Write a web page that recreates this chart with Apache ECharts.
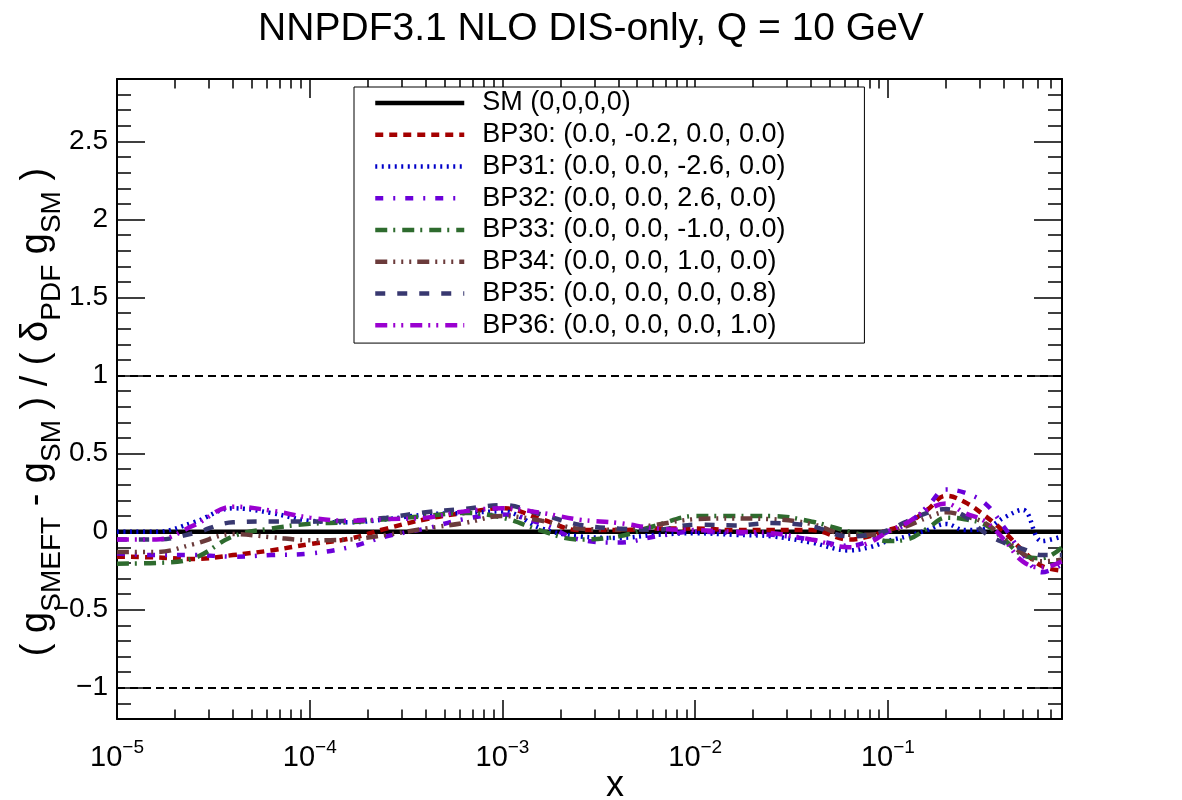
<!DOCTYPE html>
<html><head><meta charset="utf-8">
<script src="https://cdn.jsdelivr.net/npm/echarts@6/dist/echarts.min.js"></script>
<style>html,body{margin:0;padding:0;background:#fff}#c{width:1182px;height:800px}</style>
</head><body><div id="c"></div>
<script>
// ---- data ----
const titleText = 'NNPDF3.1 NLO DIS-only, Q = 10 GeV';
const xMin = 1e-5, xMax = 0.8;
const yMin = -1.2, yMax = 2.9;
const xMajorTicks = [1e-5, 1e-4, 1e-3, 1e-2, 1e-1];
const yMajorTicks = [-1, -0.5, 0, 0.5, 1, 1.5, 2, 2.5];
const refLines = [1, -1];
const xValues = [1e-5, 1.6e-5, 2.5e-5, 4e-5, 6.3e-5, 1e-4, 1.6e-4, 2.5e-4, 4e-4, 6.3e-4,
  1e-3, 1.6e-3, 2.5e-3, 4e-3, 6.3e-3, 0.01, 0.016, 0.025, 0.04, 0.063,
  0.08, 0.1, 0.125, 0.16, 0.2, 0.25, 0.32, 0.4, 0.5, 0.63, 0.8];
const smValues   = [0,0,0,0,0,0,0,0,0,0,0,0,0,0,0,0,0,0,0,0,0,0,0,0,0,0,0,0,0,0,0];
const bp30Values = [-0.16,-0.165,-0.175,-0.15,-0.12,-0.08,-0.045,0.02,0.08,0.12,0.15,0.08,0.01,0.01,0.02,0.02,0.01,0.01,0.01,-0.05,-0.03,0.01,0.05,0.14,0.23,0.19,0.10,0.0,-0.12,-0.22,-0.25];
const bp31Values = [0,0,0.06,0.15,0.12,0.07,0.06,0.08,0.11,0.12,0.13,0.02,-0.03,-0.04,-0.02,-0.01,-0.02,-0.03,-0.07,-0.12,-0.10,-0.06,-0.03,0.01,0.05,0.01,0.02,0.09,0.14,-0.06,-0.03];
const bp32Values = [-0.14,-0.15,-0.15,-0.16,-0.15,-0.14,-0.10,-0.03,0.02,0.08,0.11,0.05,-0.05,-0.07,-0.03,0.0,-0.01,-0.02,-0.05,-0.09,-0.06,0.0,0.05,0.16,0.27,0.25,0.18,0.03,-0.14,-0.26,-0.21];
const bp33Values = [-0.205,-0.2,-0.17,-0.03,0.02,0.05,0.06,0.08,0.10,0.12,0.09,0.005,-0.05,-0.03,0.04,0.10,0.10,0.10,0.065,0.0,-0.03,-0.06,-0.05,0.02,0.09,0.08,0.045,-0.05,-0.15,-0.17,-0.10];
const bp34Values = [-0.13,-0.13,-0.08,-0.015,-0.035,-0.055,-0.05,-0.02,0.02,0.055,0.10,0.07,0.02,0.013,0.045,0.08,0.085,0.08,0.05,-0.02,-0.02,0.0,0.035,0.09,0.125,0.10,0.055,-0.04,-0.14,-0.19,-0.18];
const bp35Values = [-0.05,-0.05,-0.01,0.06,0.065,0.065,0.07,0.09,0.125,0.145,0.17,0.11,0.045,0.02,0.013,0.045,0.04,0.055,0.035,-0.03,-0.02,0.01,0.065,0.12,0.145,0.10,-0.01,-0.07,-0.11,-0.15,-0.15];
const bp36Values = [-0.05,-0.05,0.04,0.16,0.135,0.09,0.07,0.08,0.09,0.13,0.15,0.12,0.077,0.056,0.02,0.01,0.0,-0.01,-0.05,-0.10,-0.07,0.0,0.056,0.14,0.18,0.12,0.065,-0.05,-0.19,-0.23,-0.19];
const seriesNames = ['SM (0,0,0,0)', 'BP30: (0.0, -0.2, 0.0, 0.0)', 'BP31: (0.0, 0.0, -2.6, 0.0)',
  'BP32: (0.0, 0.0, 2.6, 0.0)', 'BP33: (0.0, 0.0, -1.0, 0.0)', 'BP34: (0.0, 0.0, 1.0, 0.0)',
  'BP35: (0.0, 0.0, 0.0, 0.8)', 'BP36: (0.0, 0.0, 0.0, 1.0)'];
const seriesValues = [smValues, bp30Values, bp31Values, bp32Values, bp33Values, bp34Values, bp35Values, bp36Values];

// ---- styles ----
const FONT = 'Liberation Sans, Arial, Helvetica, sans-serif';
const colors = ['#000000', '#a40000', '#0000c8', '#6b00d9', '#2e6b2e', '#6b3b3b', '#383870', '#9a00d0'];
const dashes = ['solid', [8,6], [2,4.5], [8,10,2,10], [12,6,2,7], [12,6,2,6,2,6,2,6], [10,12], [12,6,2,6,2,7]];
const widths = [4.5, 4.5, 4.5, 4.5, 4.5, 4.5, 4.5, 4.5];

// minor tick positions (axis decoration)
const xMinorTicks = [];
for (let e = -5; e <= -1; e++) for (let k = 2; k <= 9; k++) { const v = k * Math.pow(10, e); if (v <= xMax * 1.0001) xMinorTicks.push(v); }
const yMinorTicks = [];
for (let i = -11; i <= 28; i++) yMinorTicks.push(i / 10);

const chart = echarts.init(document.getElementById('c'), null, {renderer: 'canvas'});
const grid = {left: 117, top: 79, width: 945, height: 640, containLabel: false, outerBoundsMode: 'none'};

function xAxisDef(pos, major, showLabel) {
  return {
    type: 'log', logBase: 10, min: xMin, max: xMax, position: pos,
    axisLine: {show: major, onZero: false, lineStyle: {color: '#000', width: 2}},
    axisTick: {show: true, inside: true, length: major ? 19 : 9.6, customValues: major ? xMajorTicks : xMinorTicks,
      lineStyle: {color: '#000', width: 1.5}},
    axisLabel: showLabel ? {
      show: true, customValues: xMajorTicks, margin: 19,
      formatter: v => { const e = Math.round(Math.log10(v)); return '{b|10}{s|' + (e < 0 ? '\u2212' + (-e) : e) + '}'; },
      rich: {
        b: {fontSize: 29, lineHeight: 40, fontFamily: FONT, color: '#000', verticalAlign: 'middle'},
        s: {fontSize: 19, lineHeight: 26, fontFamily: FONT, color: '#000', verticalAlign: 'top'}
      }
    } : {show: false},
    splitLine: {show: false}, minorTick: {show: false}, minorSplitLine: {show: false},
    name: showLabel ? 'x' : '', nameLocation: 'middle', nameGap: 49, nameMoveOverlap: false,
    nameTextStyle: {fontSize: 36, fontFamily: FONT, color: '#000', padding: [0, 0, 0, 51]}
  };
}
function yAxisDef(pos, major, showLabel) {
  return {
    type: 'value', min: yMin, max: yMax, position: pos,
    axisLine: {show: major, onZero: false, lineStyle: {color: '#000', width: 2}},
    axisTick: {show: true, inside: true, length: major ? 28 : 14, customValues: major ? yMajorTicks : yMinorTicks,
      lineStyle: {color: '#000', width: 1.5}},
    axisLabel: showLabel ? {
      show: true, customValues: yMajorTicks, margin: 9, fontSize: 28, fontFamily: FONT, color: '#000',
      formatter: v => (v < 0 ? '\u2212' + String(Math.abs(v)) : String(v))
    } : {show: false},
    splitLine: {show: false}, minorTick: {show: false},
    name: showLabel ? '{m|( g}{s|SMEFT}{m| - g}{s|SM}{m| ) / ( \u03b4}{s|PDF}{m| g}{s|SM}{m| )}' : '',
    nameLocation: 'middle', nameRotate: 90, nameGap: 51, nameMoveOverlap: false,
    nameTextStyle: {
      padding: [0, 26, 0, 0],
      rich: {
        m: {fontSize: 38, lineHeight: 58, fontFamily: FONT, color: '#000', verticalAlign: 'middle'},
        s: {fontSize: 28, lineHeight: 28, fontFamily: FONT, color: '#000', verticalAlign: 'bottom'}
      }
    }
  };
}

const series = seriesNames.map((name, i) => ({
  name: name, type: 'line', xAxisIndex: 0, yAxisIndex: 0,
  data: xValues.map((x, j) => [x, seriesValues[i][j]]),
  smooth: i === 0 ? false : 0.4,
  symbol: 'none', showSymbol: false,
  lineStyle: {color: colors[i], width: widths[i], type: dashes[i], cap: 'butt'},
  itemStyle: {color: colors[i]},
  z: i === 0 ? 2 : 3,
  markLine: i === 0 ? {
    silent: true, symbol: ['none', 'none'], label: {show: false},
    lineStyle: {color: '#000', width: 2, type: [8, 5]},
    data: refLines.map(v => ({yAxis: v}))
  } : undefined
}));

chart.setOption({
  animation: false,
  backgroundColor: '#fff',
  title: {text: titleText, left: 'center', top: 5,
    textStyle: {fontSize: 39, fontWeight: 'normal', fontFamily: FONT, color: '#000'}},
  grid: grid,
  legend: {
    orient: 'vertical', left: 354, top: 87,
    data: seriesNames,
    itemWidth: 89, itemHeight: 4, itemGap: 0,
    padding: [0, 79, 2, 19],
    backgroundColor: '#fff', borderColor: '#000', borderWidth: 1,
    itemStyle: {opacity: 0},
    lineStyle: {width: 4.5},
    textStyle: {fontSize: 27, fontFamily: FONT, color: '#000', lineHeight: 31.76, padding: [0, 0, 0, 13]},
    selectedMode: false
  },
  xAxis: [xAxisDef('bottom', true, true), xAxisDef('bottom', false, false), xAxisDef('top', true, false), xAxisDef('top', false, false)],
  yAxis: [yAxisDef('left', true, true), yAxisDef('left', false, false), yAxisDef('right', true, false), yAxisDef('right', false, false)],
  series: series
});
</script></body></html>
